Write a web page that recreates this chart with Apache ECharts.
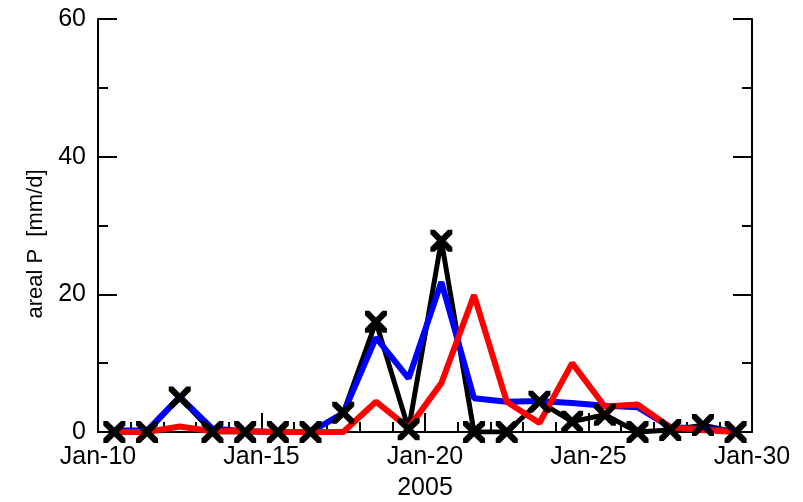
<!DOCTYPE html>
<html>
<head>
<meta charset="utf-8">
<script src="https://cdn.jsdelivr.net/npm/echarts@6/dist/echarts.min.js"></script>
<style>
  html, body { margin: 0; padding: 0; background: #fff; }
  #chart { width: 803px; height: 502px; }
</style>
</head>
<body>
<div id="chart"></div>
<script>
// Daily areal precipitation, January 2005 (values at mid-day)
const days = [10.5, 11.5, 12.5, 13.5, 14.5, 15.5, 16.5, 17.5, 18.5, 19.5,
              20.5, 21.5, 22.5, 23.5, 24.5, 25.5, 26.5, 27.5, 28.5, 29.5];
const observed = [0, 0, 5.0, 0, 0, 0, 0, 2.8, 16.0, 0.4,
                  27.8, 0, 0, 4.4, 1.5, 2.5, 0, 0.3, 1.0, 0];
const modelBlue = [0.2, 0.2, 5.1, 0.5, 0.1, 0, 0, 2.7, 13.7, 7.8,
                   21.8, 4.9, 4.4, 4.5, 4.2, 3.8, 3.6, 0.7, 0.5, 0.1];
const modelRed = [0, 0, 0.8, 0.1, 0.1, 0, 0, 0, 4.4, 0.6,
                  7.1, 19.9, 4.4, 1.3, 10.0, 3.7, 4.0, 0.7, 0.3, 0];
const xTicks = [10, 15, 20, 25, 30];
const yTicks = [0, 20, 40, 60];

const pairs = arr => days.map((d, i) => [d, arr[i]]);
const FONT = 'Liberation Sans, Arial, Helvetica, sans-serif';
const FS = 25;
const crossPath = 'path://M0,0 L2,0 L5,3 L8,0 L10,0 L10,2 L7,5 L10,8 L10,10 L8,10 L5,7 L2,10 L0,10 L0,8 L3,5 L0,2 Z';

const axisLine = { show: true, onZero: false, lineStyle: { color: '#000', width: 2 } };
const majorTick = { show: true, inside: true, length: 19, lineStyle: { color: '#000', width: 2 } };

const chart = echarts.init(document.getElementById('chart'), null, { renderer: 'canvas' });
chart.setOption({
  animation: false,
  backgroundColor: '#fff',
  grid: { left: 98, right: 51, top: 19, bottom: 70, containLabel: false, outerBoundsMode: 'none' },
  xAxis: {
    type: 'value',
    min: xTicks[0],
    max: xTicks[xTicks.length - 1],
    interval: 5,
    name: '2005',
    nameLocation: 'middle',
    nameGap: 44,
    nameTextStyle: { color: '#000', fontSize: FS, fontFamily: FONT },
    axisLine: axisLine,
    axisTick: majorTick,
    minorTick: { show: true, splitNumber: 5, length: 10, lineStyle: { color: '#000', width: 2 } },
    axisLabel: {
      color: '#000', fontSize: FS, fontFamily: FONT, margin: 13,
      formatter: v => 'Jan-' + v
    },
    splitLine: { show: false },
    minorSplitLine: { show: false }
  },
  yAxis: [
    {
      type: 'value',
      position: 'left',
      min: yTicks[0],
      max: yTicks[yTicks.length - 1],
      interval: 20,
      axisLine: axisLine,
      axisTick: majorTick,
      minorTick: { show: true, splitNumber: 2, length: 10, lineStyle: { color: '#000', width: 2 } },
      axisLabel: { color: '#000', fontSize: FS, fontFamily: FONT, margin: 12 },
      splitLine: { show: false }
    },
    {
      type: 'value',
      position: 'right',
      min: yTicks[0],
      max: yTicks[yTicks.length - 1],
      interval: 20,
      axisLine: axisLine,
      axisTick: majorTick,
      minorTick: { show: true, splitNumber: 2, length: 10, lineStyle: { color: '#000', width: 2 } },
      axisLabel: { show: false },
      splitLine: { show: false }
    }
  ],
  graphic: [{
    type: 'text',
    x: 36,
    y: 244,
    rotation: Math.PI / 2,
    style: {
      text: 'areal P  [mm/d]',
      fill: '#000',
      font: '22px ' + FONT,
      align: 'center',
      verticalAlign: 'middle'
    }
  }],
  series: [
    {
      type: 'line', data: pairs(observed), z: 2,
      showSymbol: false, symbol: 'none',
      lineStyle: { color: '#000', width: 5 }
    },
    {
      type: 'line', data: pairs(modelBlue), z: 3,
      showSymbol: false, symbol: 'none',
      lineStyle: { color: '#0000ff', width: 6 }
    },
    {
      type: 'line', data: pairs(modelRed), z: 4,
      showSymbol: false, symbol: 'none',
      lineStyle: { color: '#ff0000', width: 6 }
    },
    {
      type: 'scatter', data: pairs(observed), z: 5,
      symbol: crossPath, symbolSize: 22,
      itemStyle: { color: '#000', opacity: 1 }
    }
  ]
});
</script>
</body>
</html>
